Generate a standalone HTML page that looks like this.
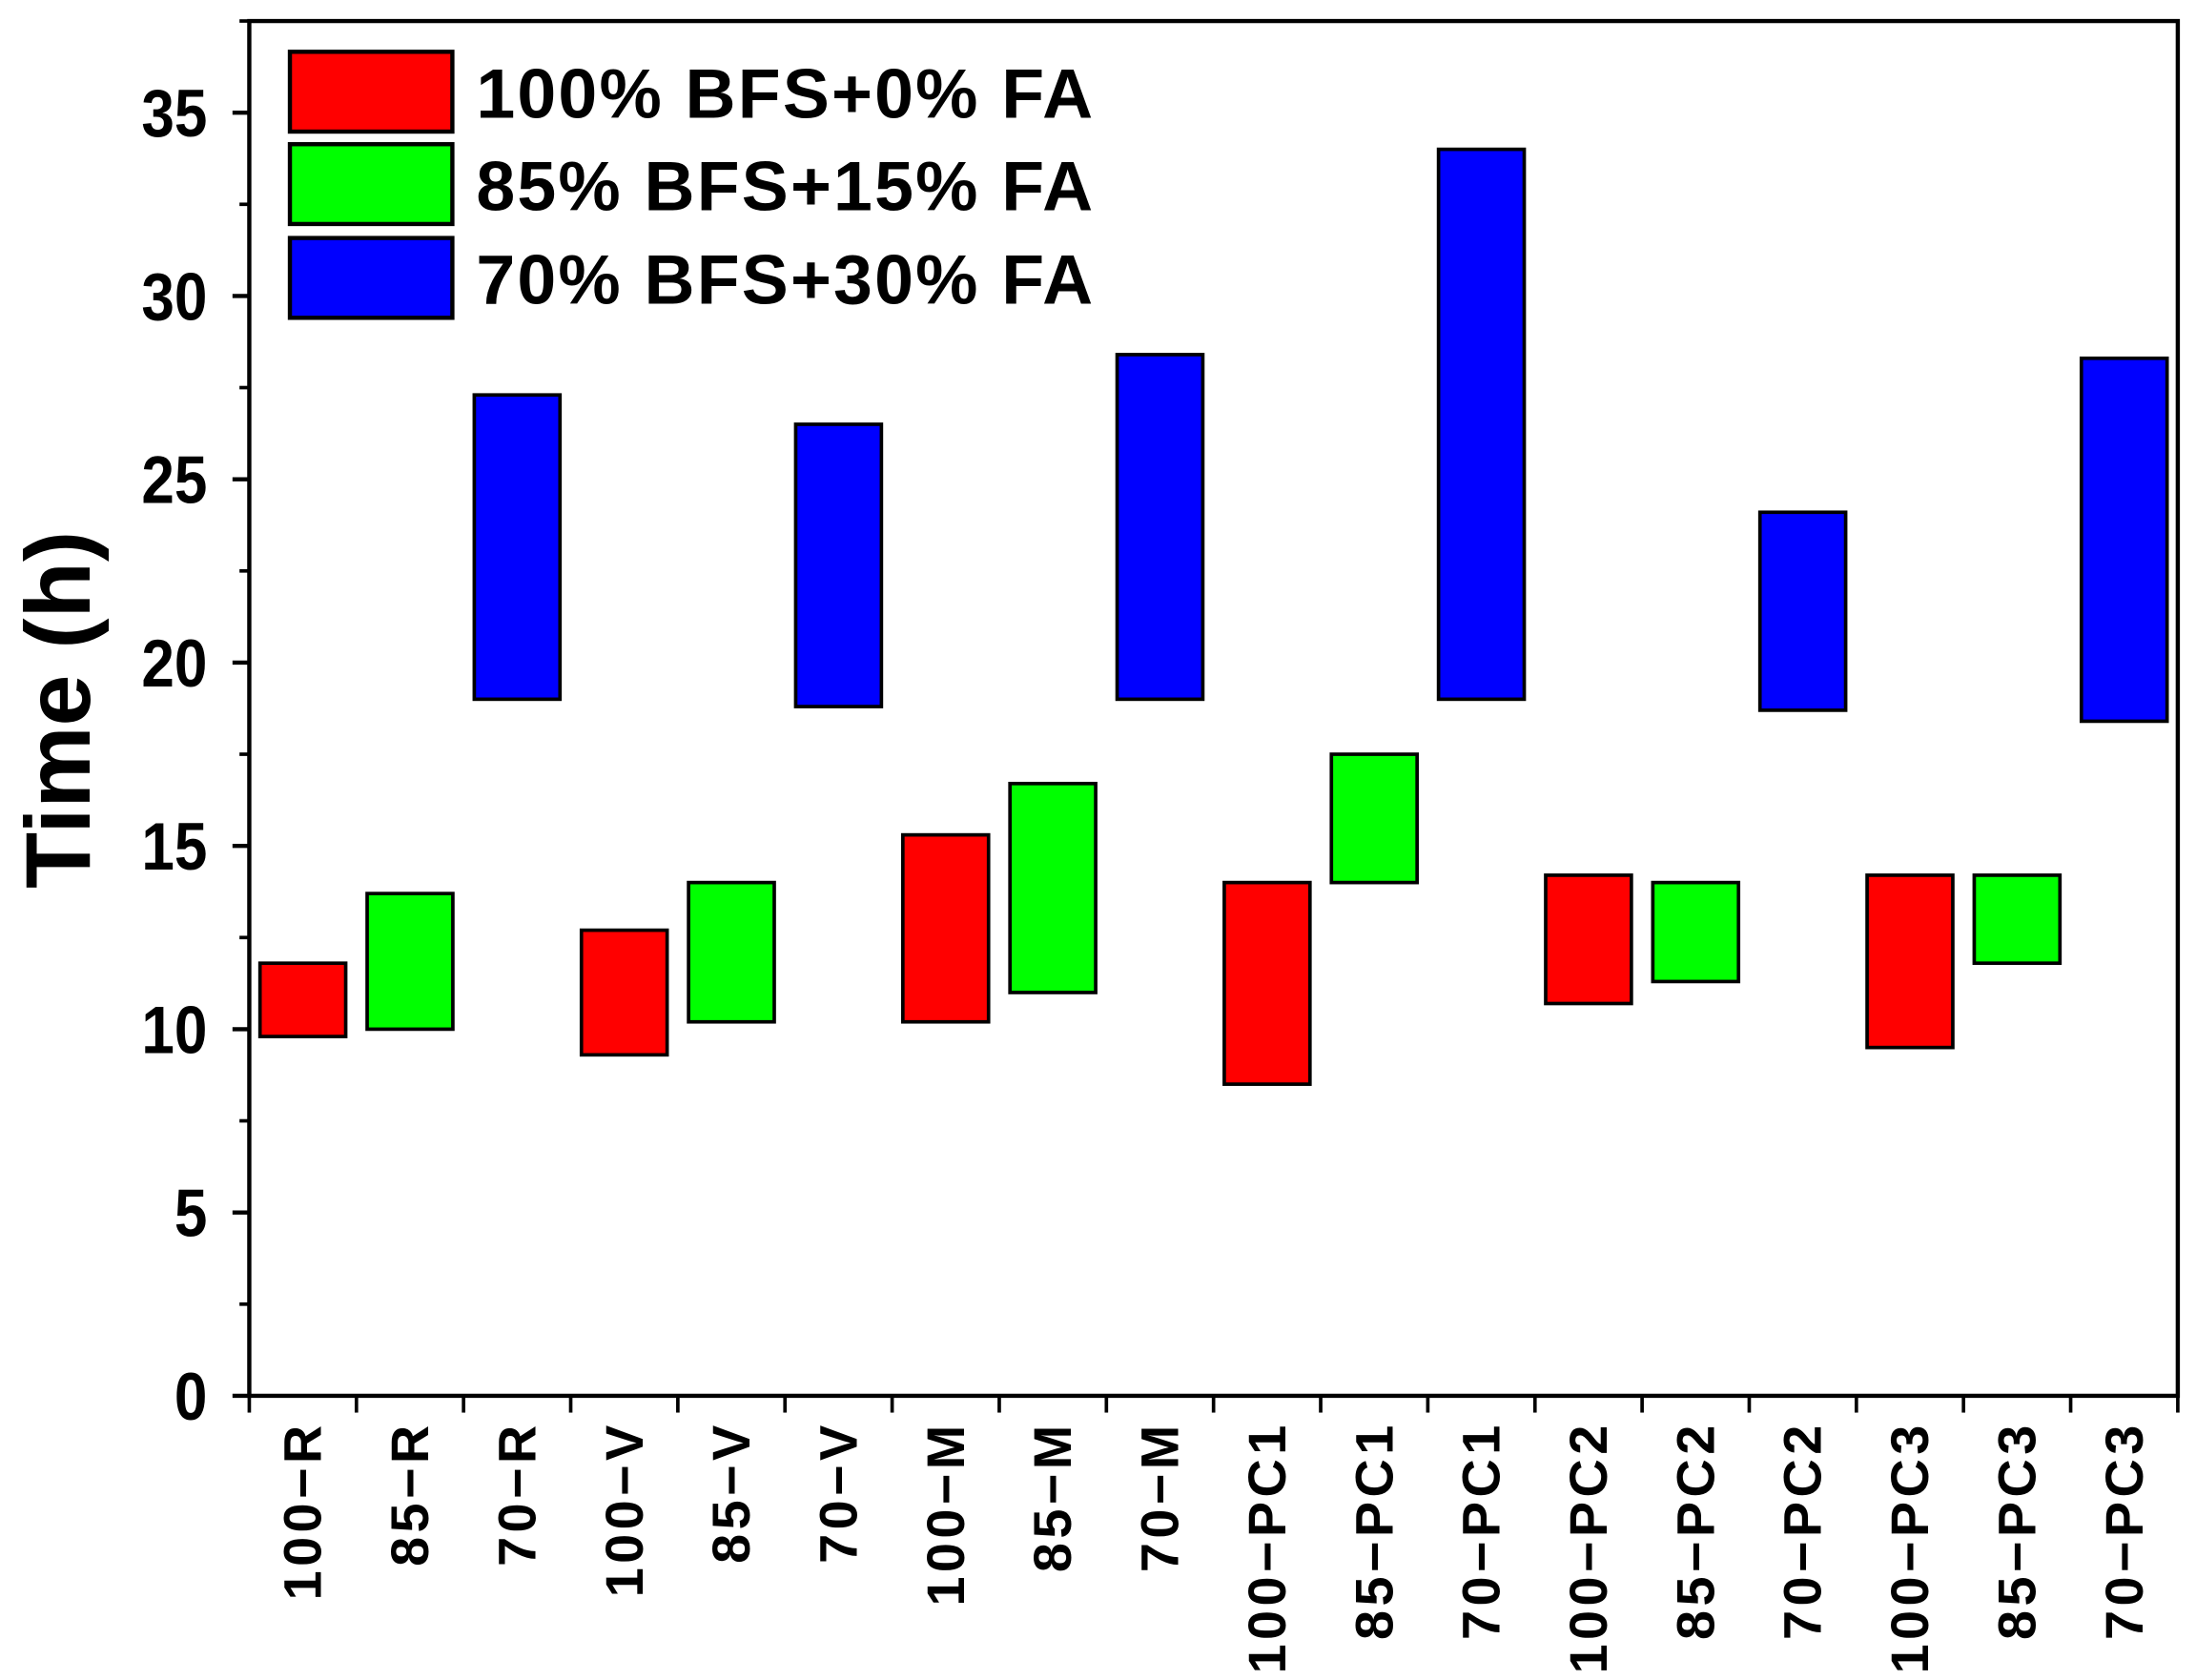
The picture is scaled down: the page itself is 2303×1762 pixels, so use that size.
<!DOCTYPE html>
<html><head><meta charset="utf-8"><style>
html,body{margin:0;padding:0;background:#fff;}
svg{display:block;}
text{font-family:"Liberation Sans",Arial,sans-serif;font-weight:bold;fill:#000;}
</style></head><body>
<svg id="chart" width="2303" height="1762" viewBox="0 0 1568 1200" preserveAspectRatio="none" xmlns="http://www.w3.org/2000/svg"></svg>
<script>
const categories = ["100\u2212R","85\u2212R","70\u2212R","100\u2212V","85\u2212V","70\u2212V","100\u2212M","85\u2212M","70\u2212M","100\u2212PC1","85\u2212PC1","70\u2212PC1","100\u2212PC2","85\u2212PC2","70\u2212PC2","100\u2212PC3","85\u2212PC3","70\u2212PC3"];
const lowValues  = [9.8,10,19,9.3,10.2,18.8,10.2,11,19,8.5,14,19,10.7,11.3,18.7,9.5,11.8,18.4];
const highValues = [11.8,13.7,27.3,12.7,14,26.5,15.3,16.7,28.4,14,17.5,34,14.2,14,24.1,14.2,14.2,28.3];
const seriesIndex = [0,1,2,0,1,2,0,1,2,0,1,2,0,1,2,0,1,2];
const seriesNames = ["100% BFS+0% FA","85% BFS+15% FA","70% BFS+30% FA"];
const seriesColors = ["#ff0000","#00ff00","#0000ff"];
const yTicks = [0,5,10,15,20,25,30,35];

const svg = document.getElementById('chart');
const NS = "http://www.w3.org/2000/svg";
const L=178, R=1555, T=15, B=997, YMAX=37.5;
const y = v => B - v/YMAX*(B-T);
const band = (R-L)/categories.length;
const x = i => L + i*band;
function el(tag, attrs, parent){const e=document.createElementNS(NS,tag);for(const k in attrs)e.setAttribute(k,attrs[k]);(parent||svg).appendChild(e);return e;}

categories.forEach((c,i)=>{
  const r = el('rect',{x:x(i)+band*0.1,y:y(highValues[i]),width:band*0.8,height:y(lowValues[i])-y(highValues[i]),fill:seriesColors[seriesIndex[i]],stroke:'#000','stroke-width':2.5});
  
  
});

const ax = el('path',{d:`M${L} ${T} H${R} V${B} H${L} Z`,fill:'none',stroke:'#000','stroke-width':3});



yTicks.forEach(v=>{
  const t=el('line',{x1:L-12,x2:L,y1:y(v),y2:y(v),stroke:'#000','stroke-width':3});
  
  
  const m=el('line',{x1:L-7,x2:L,y1:y(v+2.5),y2:y(v+2.5),stroke:'#000','stroke-width':2.5});
  
  
  const ax0=148;
  const tx=el('text',{x:ax0,y:y(v)+17,'text-anchor':'end','font-size':48,'transform':`translate(${ax0*0.12} 0) scale(0.88 1)`});
  tx.textContent=v;
  
  
});

for(let i=0;i<=categories.length;i++){
  const t=el('line',{x1:x(i),x2:x(i),y1:B,y2:B+12,stroke:'#000','stroke-width':2.5});
  
  
}
categories.forEach((c,i)=>{
  const cx=x(i)+band/2+13;
  const tx=el('text',{x:cx,y:1015,'text-anchor':'end','font-size':38,'letter-spacing':3,transform:`rotate(-90 ${cx} 1015)`});
  tx.textContent=c;
  
  
});

const yt=el('text',{x:64,y:507,'text-anchor':'middle','font-size':66,transform:'rotate(-90 64 507)'});
yt.textContent='Time (h)';



const legendY=[37,103,170];
seriesNames.forEach((n,i)=>{
  const r=el('rect',{x:207,y:legendY[i],width:116,height:57,fill:seriesColors[i],stroke:'#000','stroke-width':3});
  
  
  const tx=el('text',{x:340,y:legendY[i]+47,'font-size':50,'letter-spacing':1.5});
  tx.textContent=n;
  
  
});
</script>
</body></html>
